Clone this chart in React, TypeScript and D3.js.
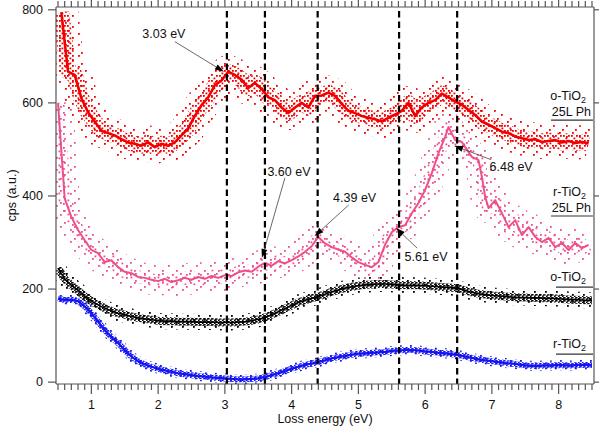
import React from "react";
import * as d3 from "d3";

// o-TiO2 25L Ph (red), smoothed trace, 0.1 eV steps from 0.55 eV
const redStart = 0.55;
const redValues = [
  795, 667, 660, 610, 580, 560, 540, 535, 530, 522, 515, 512, 508, 515, 505, 512, 508, 515, 530, 545,
  572, 595, 612, 638, 648, 667, 660, 650, 632, 643, 630, 612, 606, 590, 578, 590, 600, 590, 615, 616,
  622, 615, 598, 583, 578, 572, 568, 565, 560, 568, 575, 583, 600, 572, 590, 600, 606, 620, 612, 603,
  596, 585, 574, 560, 553, 546, 538, 535, 528, 524, 520, 522, 516, 518, 520, 515, 518, 514, 516, 513,
];

// r-TiO2 25L Ph (pink)
const pinkEnergy = [
  0.5, 0.6, 0.7, 0.8, 0.9, 1.0, 1.1, 1.2, 1.3, 1.4, 1.5, 1.6, 1.7, 1.8, 1.9, 2.0, 2.1, 2.2, 2.3, 2.4,
  2.5, 2.6, 2.7, 2.8, 2.9, 3.0, 3.1, 3.2, 3.3, 3.4, 3.5, 3.6, 3.7, 3.8, 3.9, 4.0, 4.1, 4.2, 4.3, 4.4,
  4.5, 4.6, 4.7, 4.8, 4.9, 5.0, 5.1, 5.2, 5.3, 5.4, 5.5, 5.6, 5.7, 5.8, 5.9, 6.0, 6.1, 6.2, 6.3,
  6.35, 6.45, 6.55, 6.6, 6.7, 6.8, 6.85, 6.9, 6.95,
  7.05, 7.15, 7.25, 7.35, 7.45, 7.55, 7.65, 7.75, 7.85, 7.95, 8.05, 8.15, 8.25, 8.35, 8.45,
];
const pinkValues = [
  600, 395, 355, 327, 305, 284, 277, 258, 262, 247, 237, 234, 226, 224, 220, 217, 222, 215, 219, 224,
  220, 226, 222, 228, 224, 230, 228, 236, 240, 237, 248, 256, 250, 260, 255, 262, 270, 280, 292, 312,
  298, 290, 285, 280, 268, 258, 252, 247, 258, 295, 322, 333, 337, 363, 385, 413, 449, 492, 527,
  548, 520, 516, 505, 484, 477, 441, 398, 374,
  391, 363, 333, 348, 316, 333, 312, 301, 310, 290, 299, 284, 299, 288, 295,
];

// o-TiO2 (black) and r-TiO2 (blue), 0.1 eV steps from 0.5 eV
const cleanStart = 0.5;
const blackValues = [
  245, 222, 208, 197, 184, 174, 166, 159, 153, 148, 145, 141, 138, 136, 134, 132, 131, 131, 130, 130,
  130, 129, 129, 129, 128, 128, 128, 129, 130, 132, 135, 139, 145, 151, 158, 165, 171, 176, 180, 184,
  189, 194, 198, 202, 205, 207, 209, 210, 211, 211, 210, 209, 208, 208, 208, 207, 206, 205, 204, 203,
  201, 197, 193, 190, 188, 186, 185, 184, 183, 182, 182, 181, 181, 180, 180, 179, 178, 177, 177, 176,
  176,
];
const blueValues = [
  180, 176, 177, 174, 163, 148, 130, 112, 97, 84, 69, 55, 45, 38, 33, 29, 25, 22, 19, 17,
  15, 13, 12, 10, 9, 8, 7, 6, 6, 7, 8, 11, 15, 19, 24, 29, 33, 37, 40, 43,
  47, 51, 54, 56, 59, 61, 62, 63, 64, 65, 67, 68, 69, 69, 68, 66, 65, 63, 62, 60,
  58, 55, 52, 49, 47, 45, 43, 41, 40, 38, 36, 35, 35, 36, 36, 37, 36, 36, 37, 37,
  37,
];

const peakEnergy = [3.03, 3.6, 4.39, 5.61, 6.48];
const peakLabels = ["3.03 eV", "3.60 eV", "4.39 eV", "5.61 eV", "6.48 eV"];
const peakTarget = [667, 267, 314, 331, 508];

const seriesNames = ["o-TiO", "r-TiO", "o-TiO", "r-TiO"];
const seriesSecondLine = ["25L Ph", "25L Ph", "", ""];
const seriesLabelLevel = [563, 357, 204, 60];

const yTicks = [0, 200, 400, 600, 800];
const xTicks = [1, 2, 3, 4, 5, 6, 7, 8];

const W = 600;
const H = 426;
const left = 56;
const right = 594;
const top = 7;
const bottom = 384;
const font = "'Liberation Sans', Arial, sans-serif";

const x = d3.scaleLinear().domain([0.47, 8.53]).range([left, right]);
const y = d3.scaleLinear().domain([-4, 806]).range([bottom, top]);

type Pt = [number, number];
const line = d3
  .line<Pt>()
  .x((d) => x(d[0]))
  .y((d) => y(d[1]));

const redPts: Pt[] = redValues.map((v, i) => [redStart + i * 0.1, v]);
const pinkPts: Pt[] = pinkValues.map((v, i) => [pinkEnergy[i], v]);
const blackPts: Pt[] = blackValues.map((v, i) => [cleanStart + i * 0.1, v]);
const bluePts: Pt[] = blueValues.map((v, i) => [cleanStart + i * 0.1, v]);

const RED = "#f20000";
const PINK = "#ee4f8c";
const BLUE = "#1414f0";

// arrow tail offsets and label anchors, relative to the tip
const arrowTail = [
  [-49, -30],
  [23, -80],
  [34, -31],
  [21, 20],
  [37, 14],
];
const labelAt = [
  [-60, -34],
  [27, -82],
  [40, -34],
  [30, 33],
  [57, 25],
];

function DotPattern({ id, color, w, h, dots, s = 1.8 }: { id: string; color: string; w: number; h: number; dots: number[][]; s?: number }) {
  return (
    <pattern id={id} width={w} height={h} patternUnits="userSpaceOnUse">
      {dots.map((d, i) => (
        <rect key={i} x={d[0]} y={d[1]} width={s} height={s} fill={color} />
      ))}
    </pattern>
  );
}

function Arrow({ tip, tail }: { tip: Pt; tail: Pt }) {
  const ang = Math.atan2(tip[1] - tail[1], tip[0] - tail[0]);
  const len = 9;
  const half = 3;
  const bx = tip[0] - len * Math.cos(ang);
  const by = tip[1] - len * Math.sin(ang);
  const p1 = [bx + half * Math.sin(ang), by - half * Math.cos(ang)];
  const p2 = [bx - half * Math.sin(ang), by + half * Math.cos(ang)];
  return (
    <g>
      <line x1={tail[0]} y1={tail[1]} x2={bx} y2={by} stroke="#444" strokeWidth={0.8} />
      <path d={`M${tip[0]},${tip[1]}L${p1[0]},${p1[1]}L${p2[0]},${p2[1]}Z`} fill="#000" />
    </g>
  );
}

export default function App() {
  const minor = d3.range(5, 86).map((i) => i / 10).filter((t) => Math.abs(t - Math.round(t)) > 0.01);
  return (
    <svg width={W} height={H} style={{ position: "absolute", left: 0, top: 0, background: "#fff" }} fontFamily={font}>
      <defs>
        <clipPath id="plot">
          <rect x={left} y={top} width={right - left} height={bottom - top} />
        </clipPath>
        <DotPattern id="redOuter" color={RED} w={13} h={11} dots={[[0, 0], [7, 4], [3, 8]]} />
        <DotPattern id="redInner" color={RED} w={8} h={5} dots={[[0, 0], [3, 0], [5.5, 2.5]]} />
        <DotPattern id="pinkOuter" color={PINK} w={14} h={12} dots={[[0, 1], [8, 6], [4, 10]]} />
        <DotPattern id="pinkInner" color={PINK} w={9} h={7} dots={[[0, 0], [4.5, 3.5]]} />
        <DotPattern id="blackOuter" color="#000" w={11} h={7} dots={[[0, 0], [6, 4]]} />
        <DotPattern id="blackInner" color="#000" w={4} h={3} dots={[[0, 0], [2, 1.5], [3, 0.2]]} s={1.6} />
        <DotPattern id="blueOuter" color={BLUE} w={10} h={5} dots={[[0, 0], [5, 2.5]]} />
        <DotPattern id="blueInner" color={BLUE} w={4} h={3} dots={[[0, 0], [2, 1.5], [3, 0.2]]} s={1.6} />
      </defs>

      <g clipPath="url(#plot)" fill="none" strokeLinejoin="round" strokeLinecap="butt">
        <path d={line(redPts) ?? ""} stroke="url(#redOuter)" strokeWidth={34} />
        <path d={line(redPts) ?? ""} stroke="url(#redInner)" strokeWidth={16} />
        <path d={line(pinkPts) ?? ""} stroke="url(#pinkOuter)" strokeWidth={30} />
        <path d={line(pinkPts) ?? ""} stroke="url(#pinkInner)" strokeWidth={13} />
        <path d={line(blackPts) ?? ""} stroke="url(#blackOuter)" strokeWidth={16} />
        <path d={line(blackPts) ?? ""} stroke="url(#blackInner)" strokeWidth={8} />
        <path d={line(bluePts) ?? ""} stroke="url(#blueOuter)" strokeWidth={10} />
        <path d={line(bluePts) ?? ""} stroke="url(#blueInner)" strokeWidth={6} />
        <path d={line(blackPts) ?? ""} stroke="#000" strokeWidth={1.6} />
        <path d={line(bluePts) ?? ""} stroke={BLUE} strokeWidth={2.2} />
        <path d={line(redPts) ?? ""} stroke={RED} strokeWidth={2.6} />
        <path d={line(pinkPts) ?? ""} stroke={PINK} strokeWidth={2} />
      </g>

      {peakEnergy.map((e) => (
        <line key={e} x1={x(e)} x2={x(e)} y1={top + 4} y2={bottom} stroke="#000" strokeWidth={2.2} strokeDasharray="6.5,4" />
      ))}

      {peakEnergy.map((e, i) => {
        const tip: Pt = [x(e) - 3, y(peakTarget[i])];
        const tail: Pt = [tip[0] + arrowTail[i][0], tip[1] + arrowTail[i][1]];
        return (
          <g key={"a" + i}>
            <Arrow tip={tip} tail={tail} />
            <text x={tip[0] + labelAt[i][0]} y={tip[1] + labelAt[i][1]} fontSize={12.5} textAnchor="middle" fill="#111">
              {peakLabels[i]}
            </text>
          </g>
        );
      })}

      {seriesNames.map((n, i) => {
        const base = y(seriesLabelLevel[i]);
        const two = seriesSecondLine[i] !== "";
        return (
          <g key={"s" + i} fontSize={12.5} fill="#111">
            <text x={586} y={two ? base - 20 : base - 6} textAnchor="end">
              {n}
              <tspan fontSize={9} dy={3}>2</tspan>
            </text>
            {two && (
              <text x={591} y={base - 4} textAnchor="end">
                {seriesSecondLine[i]}
              </text>
            )}
            <line x1={two ? 551 : 556} x2={593} y1={base} y2={base} stroke="#333" strokeWidth={1.2} />
          </g>
        );
      })}

      {/* frame */}
      <g stroke="#555" strokeWidth={1.2} fill="none">
        <line x1={left} x2={left} y1={top} y2={bottom} />
        <line x1={right} x2={right} y1={top} y2={bottom} />
        <line x1={left} x2={right} y1={top} y2={top} />
        <line x1={left} x2={right} y1={bottom} y2={bottom} />
        {yTicks.map((t) => (
          <g key={"y" + t}>
            <line x1={left - 8} x2={left} y1={y(t)} y2={y(t)} />
            <line x1={right} x2={right + 5} y1={y(t)} y2={y(t)} />
          </g>
        ))}
        {xTicks.map((t) => (
          <g key={"x" + t}>
            <line x1={x(t)} x2={x(t)} y1={bottom} y2={bottom + 10} />
            <line x1={x(t)} x2={x(t)} y1={top} y2={top - 10} />
          </g>
        ))}
        {minor.map((t) => (
          <g key={"m" + t}>
            <line x1={x(t)} x2={x(t)} y1={bottom} y2={bottom + 6} />
            <line x1={x(t)} x2={x(t)} y1={top} y2={top - 6} />
          </g>
        ))}
      </g>

      {yTicks.map((t) => (
        <text key={"yl" + t} x={43} y={y(t) + 4} fontSize={12.5} textAnchor="end" fill="#111">
          {t}
        </text>
      ))}
      {xTicks.map((t) => (
        <text key={"xl" + t} x={x(t)} y={409} fontSize={12.5} textAnchor="middle" fill="#111">
          {t}
        </text>
      ))}
      <text x={(left + right) / 2} y={423} fontSize={12.5} textAnchor="middle" fill="#111">
        Loss energy (eV)
      </text>
      <text transform={`translate(16,${(top + bottom) / 2}) rotate(-90)`} fontSize={12.5} textAnchor="middle" fill="#111">
        cps (a.u.)
      </text>
    </svg>
  );
}
